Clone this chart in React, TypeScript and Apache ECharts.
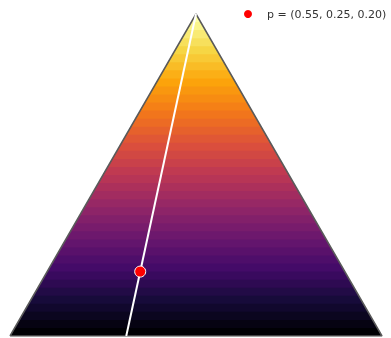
import React, { useEffect, useRef } from "react";
import * as echarts from "echarts";

const SQ = Math.sqrt(3) / 2;
// barycentric weights: [left vertex, right vertex, top vertex]
const P_WEIGHTS = [0.55, 0.25, 0.2];
const P_LABEL = "p = (0.55, 0.25, 0.20)";
const N_BANDS = 40;
const INFERNO_STOPS = [
  "#000004", "#160b39", "#420a68", "#6a176e", "#932667", "#bc3754",
  "#dd513a", "#f37819", "#fca50a", "#f6d746", "#fcffa4",
];

function hexToRgb(h: string) {
  return [parseInt(h.slice(1, 3), 16), parseInt(h.slice(3, 5), 16), parseInt(h.slice(5, 7), 16)];
}
function inferno(t: number) {
  const n = INFERNO_STOPS.length - 1;
  const x = Math.max(0, Math.min(1, t)) * n;
  const i = Math.min(n - 1, Math.floor(x));
  const f = x - i;
  const a = hexToRgb(INFERNO_STOPS[i]);
  const b = hexToRgb(INFERNO_STOPS[i + 1]);
  const c = a.map((v, k) => Math.round(v + (b[k] - v) * f));
  return `rgb(${c[0]},${c[1]},${c[2]})`;
}
function toXY(w: number[]) {
  return [w[1] + w[2] * 0.5, w[2] * SQ];
}

export default function App() {
  const ref = useRef<HTMLDivElement>(null);
  useEffect(() => {
    if (!ref.current) return;
    const chart = echarts.init(ref.current, null, { renderer: "svg" });
    const bands: number[][] = [];
    for (let i = 0; i < N_BANDS; i++) bands.push([i / N_BANDS, (i + 1) / N_BANDS, i]);
    const apex = toXY([0, 0, 1]);
    const p = toXY(P_WEIGHTS);
    const baseW = [P_WEIGHTS[0] / (P_WEIGHTS[0] + P_WEIGHTS[1]), P_WEIGHTS[1] / (P_WEIGHTS[0] + P_WEIGHTS[1]), 0];
    const base = toXY(baseW);
    chart.setOption({
      animation: false,
      grid: { left: 10, right: 9, top: 14, bottom: 2, containLabel: false },
      xAxis: { type: "value", min: 0, max: 1, show: false },
      yAxis: { type: "value", min: 0, max: SQ, show: false },
      legend: {
        data: [{ name: P_LABEL, icon: "circle" }],
        left: 237,
        top: 3,
        itemWidth: 10,
        itemHeight: 10,
        selectedMode: false,
        textStyle: { fontSize: 11, color: "#333", fontFamily: "DejaVu Sans", padding: [0, 0, 0, 9] },
      },
      series: [
        {
          type: "custom",
          z: 1,
          silent: true,
          data: bands,
          encode: { x: 0, y: 1 },
          renderItem: (params: any, api: any) => {
            const c0 = api.value(0);
            const c1raw = api.value(1);
            const idx = api.value(2);
            const c1 = Math.min(1, c1raw + 0.003);
            const col = inferno(idx / (N_BANDS - 1));
            const pts = [
              [c0 / 2, c0 * SQ],
              [1 - c0 / 2, c0 * SQ],
              [1 - c1 / 2, c1 * SQ],
              [c1 / 2, c1 * SQ],
            ].map((q) => api.coord(q));
            return {
              type: "polygon",
              shape: { points: pts },
              style: { fill: col },
            };
          },
        },
        {
          type: "line",
          z: 2,
          silent: true,
          showSymbol: false,
          data: [[0, 0], [0.5, SQ], [1, 0], [0, 0]],
          lineStyle: { color: "#5a5a5a", width: 1.5 },
        },
        {
          type: "line",
          z: 3,
          silent: true,
          showSymbol: false,
          data: [apex, base],
          lineStyle: { color: "#ffffff", width: 2 },
        },
        {
          type: "scatter",
          name: P_LABEL,
          z: 4,
          symbol: "circle",
          symbolSize: 11,
          data: [p],
          itemStyle: { color: "#ff0000", borderColor: "#ffffff", borderWidth: 1, opacity: 1 },
        },
      ],
    });
    return () => chart.dispose();
  }, []);
  return (
    <div
      ref={ref}
      style={{ position: "fixed", left: 0, top: 0, width: 391, height: 338 }}
    />
  );
}
